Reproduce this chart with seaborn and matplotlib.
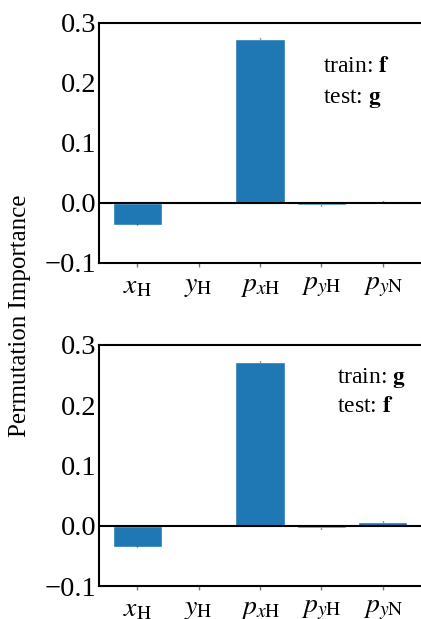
import matplotlib
matplotlib.use("Agg")
import matplotlib.pyplot as plt
import seaborn as sns
import pandas as pd
import numpy as np

features = [r"$x_{\mathrm{H}}$", r"$y_{\mathrm{H}}$", r"$p_{x\mathrm{H}}$",
            r"$p_{y\mathrm{H}}$", r"$p_{y\mathrm{N}}$"]
imp_f_to_g = [-0.036, 0.0, 0.274, -0.004, 0.003]
err_f_to_g = [0.001, 0.0005, 0.001, 0.0008, 0.0008]
imp_g_to_f = [-0.035, 0.001, 0.272, -0.004, 0.007]
err_g_to_f = [0.001, 0.0005, 0.001, 0.0008, 0.0008]
yticks = [-0.1, 0.0, 0.1, 0.2, 0.3]
panels = [("f", "g"), ("g", "f")]

sns.set_theme(style="white")
plt.rcParams["font.family"] = ["Liberation Serif", "DejaVu Serif"]
plt.rcParams["mathtext.fontset"] = "stix"
plt.rcParams["text.color"] = "black"
plt.rcParams["xtick.color"] = "black"
plt.rcParams["ytick.color"] = "black"
plt.rcParams["xtick.labelcolor"] = "black"
plt.rcParams["ytick.labelcolor"] = "black"

W, H = 421, 619
fig = plt.figure(figsize=(W / 100, H / 100), dpi=100)

def ax_rect(left, top, right, bottom):
    return [left / W, 1 - bottom / H, (right - left) / W, (bottom - top) / H]

axes = [fig.add_axes(ax_rect(99, 23, 421, 263)),
        fig.add_axes(ax_rect(99, 345, 421, 586))]
vals = [imp_f_to_g, imp_g_to_f]
errs = [err_f_to_g, err_g_to_f]
text_pos = [(0.696, 0.796, 0.667), (0.739, 0.842, 0.722)]

for ax, v, e, (tr, te), (tx, ty1, ty2) in zip(axes, vals, errs, panels, text_pos):
    df = pd.DataFrame({"feature": features, "importance": v})
    sns.barplot(data=df, x="feature", y="importance", color="#1f77b4",
                saturation=1, width=0.8, ax=ax, errorbar=None)
    ax.errorbar(np.arange(len(features)), v, yerr=e, fmt="none",
                ecolor="#333333", elinewidth=1, capsize=0)
    ax.axhline(0, color="black", lw=1.5, zorder=3)
    ax.set_xlim(-0.62, 4.62)
    ax.set_ylim(-0.1, 0.3)
    ax.set_yticks(yticks)
    ax.set_yticklabels([f"{t:.1f}".replace("-", "\u2212") for t in yticks])
    ax.set_xlabel("")
    ax.set_ylabel("")
    for s in ["left", "bottom", "top"]:
        ax.spines[s].set_visible(True)
        ax.spines[s].set_color("black")
        ax.spines[s].set_linewidth(1.5)
    ax.spines["right"].set_visible(False)
    ax.tick_params(axis="y", length=0, pad=2, labelsize=20.5, labelcolor="black")
    ax.tick_params(axis="x", direction="out", length=3, width=1, color="#777777",
                   pad=5, labelsize=20, bottom=True, labelcolor="black")
    ax.text(tx, ty1, rf"train: $\mathbf{{{tr}}}$", transform=ax.transAxes,
            fontsize=17, va="baseline", ha="left", color="black")
    ax.text(tx, ty2, rf"test: $\mathbf{{{te}}}$", transform=ax.transAxes,
            fontsize=17, va="baseline", ha="left", color="black")

fig.text(20 / W, 1 - 316 / H, "Permutation Importance", rotation=90,
         ha="center", va="center", fontsize=18, color="black")

fig.savefig("out.png", dpi=100)
